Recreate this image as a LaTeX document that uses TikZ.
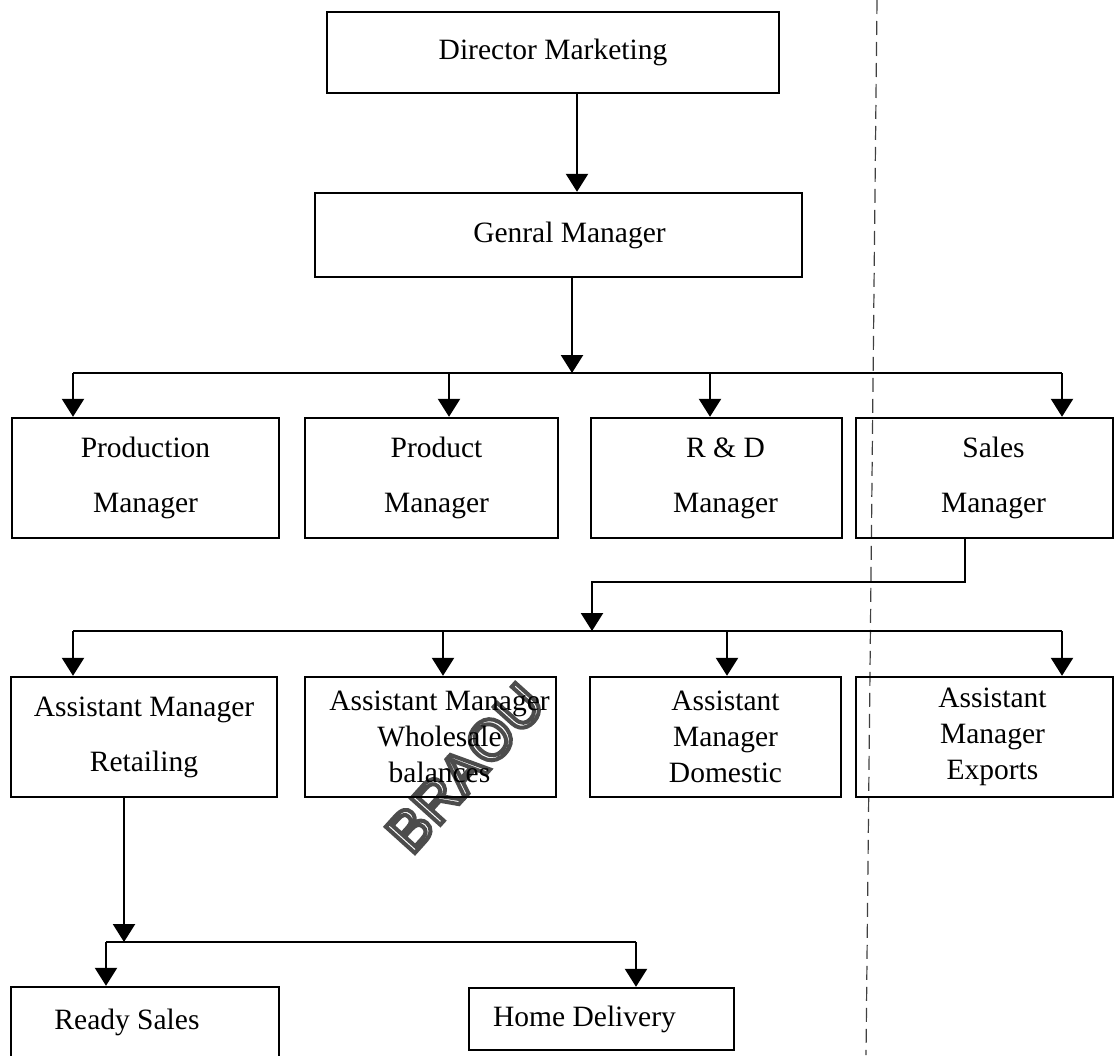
\documentclass[tikz,border=0pt]{standalone}
\usepackage{fontspec}
\setmainfont{Liberation Serif}
\newfontfamily\wmfont{Liberation Sans}
\usetikzlibrary{arrows.meta}

% outlined lettering: stroked only, dark grey
\newcommand{\outlinetext}[1]{%
  {\special{pdf:literal direct 1 Tr 4 w 0.3 G}#1\special{pdf:literal direct 0 Tr 0 G}}}

\tikzset{
  post/.style={draw=black, line width=2.4pt, rectangle, inner sep=0pt, align=center},
  twoline/.style={font=\fontsize{29.5}{55}\selectfont},
  threeline/.style={font=\fontsize{29.5}{36}\selectfont},
  link/.style={draw=black, line width=2.4pt},
  arr/.style={link, -{Triangle[width=22pt,length=18pt]}},
  fold/.style={draw=black!75, line width=1.2pt, dash pattern=on 14pt off 7pt}
}

\begin{document}
\begin{tikzpicture}[x=1pt,y=-1pt]
\useasboundingbox (0,0) rectangle (1116,1055);

% watermark, beneath everything else
\node[rotate=48, inner sep=0pt] (wm) at (465,768) {\wmfont\fontsize{57}{57}\selectfont\outlinetext{BRAOU}};

% fold line of the page
\coordinate (foldtop) at (877,0);
\coordinate (foldbot) at (866,1055);
\draw[fold] (foldtop) -- (foldbot);

% top of the hierarchy
\node[post, twoline, minimum width=452pt, minimum height=81pt] (dm) at (553,52.5) {Director Marketing};
\node[post, twoline, minimum width=487pt, minimum height=84pt] (gm) at (558.5,235) {\hspace*{22pt}Genral Manager};

% managers
\node[post, twoline, minimum width=267pt, minimum height=120pt] (prod) at (145.5,478) {Production\\Manager};
\node[post, twoline, minimum width=253pt, minimum height=120pt] (pm) at (431.5,478) {\hspace*{10pt}Product\\\hspace*{10pt}Manager};
\node[post, twoline, minimum width=251pt, minimum height=120pt] (rd) at (716.5,478) {\hspace*{18pt}R \& D\\\hspace*{18pt}Manager};
\node[post, twoline, minimum width=257pt, minimum height=120pt] (sm) at (984.5,478) {\hspace*{18pt}Sales\\\hspace*{18pt}Manager};

% assistant managers
\node[post, twoline, minimum width=266pt, minimum height=120pt] (ret) at (144,737) {Assistant Manager\\Retailing};
\node[post, threeline, minimum width=251pt, minimum height=120pt] (whl) at (430.5,737) {\hspace*{18pt}Assistant Manager\\\hspace*{18pt}Wholesale\\\hspace*{18pt}balances};
\node[post, threeline, minimum width=251pt, minimum height=120pt] (dom) at (715.5,737) {\hspace*{20pt}Assistant\\\hspace*{20pt}Manager\\\hspace*{20pt}Domestic};
\node[post, threeline, minimum width=257pt, minimum height=120pt] (exp) at (984.5,737) {\hspace*{16pt}Assistant\\\hspace*{16pt}Manager\\\hspace*{16pt}Exports};

% retail outlets
\node[post, twoline, minimum width=268pt, minimum height=70pt] (rs) at (145,1022) {Ready Sales\hspace*{36pt}};
\node[post, twoline, minimum width=265pt, minimum height=62pt] (hd) at (601.5,1019) {Home Delivery\hspace*{34pt}};

% Director -> General Manager
\coordinate (dmout) at (577,93);
\draw[arr] (dmout) -- (dmout |- gm.north);

% General Manager -> managers
\coordinate (gmout) at (572,277);
\coordinate (busA) at (572,373);
\coordinate (busAl) at (73,373);
\coordinate (busA2) at (449,373);
\coordinate (busA3) at (710,373);
\coordinate (busAr) at (1062,373);
\draw[arr] (gmout) -- (busA);
\draw[link] (busAl) -- (busAr);
\draw[arr] (busAl) -- (busAl |- prod.north);
\draw[arr] (busA2) -- (busA2 |- pm.north);
\draw[arr] (busA3) -- (busA3 |- rd.north);
\draw[arr] (busAr) -- (busAr |- sm.north);

% Sales Manager -> assistant managers
\coordinate (smout) at (965,538);
\coordinate (smbend) at (965,582);
\coordinate (smdrop) at (592,582);
\coordinate (busB) at (592,631);
\coordinate (busBl) at (73,631);
\coordinate (busB2) at (443,631);
\coordinate (busB3) at (727,631);
\coordinate (busBr) at (1062,631);
\draw[arr] (smout) -- (smbend) -- (smdrop) -- (busB);
\draw[link] (busBl) -- (busBr);
\draw[arr] (busBl) -- (busBl |- ret.north);
\draw[arr] (busB2) -- (busB2 |- whl.north);
\draw[arr] (busB3) -- (busB3 |- dom.north);
\draw[arr] (busBr) -- (busBr |- exp.north);

% Retailing -> outlets
\coordinate (retout) at (124,797);
\coordinate (busC) at (124,942);
\coordinate (busCl) at (106,942);
\coordinate (busCr) at (636,942);
\draw[arr] (retout) -- (busC);
\draw[link] (busCl) -- (busCr);
\draw[arr] (busCl) -- (busCl |- rs.north);
\draw[arr] (busCr) -- (busCr |- hd.north);
\end{tikzpicture}
\end{document}
